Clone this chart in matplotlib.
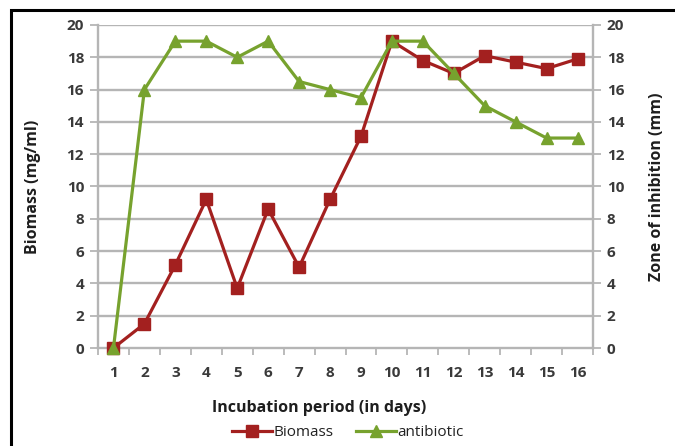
import matplotlib
matplotlib.use("Agg")
import matplotlib.pyplot as plt
from matplotlib.patches import Rectangle
from matplotlib.lines import Line2D

days = list(range(1, 17))
biomass = [0, 1.5, 5.15, 9.2, 3.7, 8.6, 5.0, 9.2, 13.1, 19.0, 17.8, 17.0, 18.1, 17.7, 17.3, 17.9]
antibiotic = [0, 16, 19, 19, 18, 19, 16.5, 16, 15.5, 19, 19, 17, 15, 14, 13, 13]
yticks = list(range(0, 21, 2))

RED = "#A3201F"
GREEN = "#77A22E"
GRID = "#B5B5B5"
TXT = "#3A3A3A"

plt.rcParams['font.family'] = ['Open Sans', 'DejaVu Sans']

fig = plt.figure(figsize=(6.75, 4.46), dpi=100)
ax = fig.add_axes([98/675, 1-348/446, (593-98)/675, (348-25)/446])
ax2 = ax.twinx()

ax.set_xlim(0.5, 16.5)
ax.set_ylim(0, 20)
ax2.set_ylim(0, 20)

for y in yticks[1:]:
    ax.axhline(y, color=GRID, lw=1.7, zorder=0)

ax.plot(days, biomass, color=RED, lw=2.3, marker='s', ms=8.5, mfc=RED, mec=RED, zorder=3, clip_on=False)
ax.plot(days, antibiotic, color=GREEN, lw=2.3, marker='^', ms=8.5, mfc=GREEN, mec=GREEN, zorder=4, clip_on=False)

for a in (ax, ax2):
    for s in a.spines.values():
        s.set_visible(False)
ax.spines['left'].set_visible(True)
ax.spines['bottom'].set_visible(True)
ax2.spines['right'].set_visible(True)
for s in (ax.spines['left'], ax.spines['bottom'], ax2.spines['right']):
    s.set_color(GRID)
    s.set_linewidth(1.7)

ax.set_yticks(yticks)
ax2.set_yticks(yticks)
ax.set_xticks(days)
ax.set_xticks([d + 0.5 for d in [0] + days], minor=True)
ax.tick_params(axis='x', which='major', length=0, pad=13, labelsize=11, labelcolor=TXT)
ax.tick_params(axis='x', which='minor', length=5, width=1.3, color=GRID, direction='out')
ax.tick_params(axis='y', length=6, width=1.3, color=GRID, labelsize=11, labelcolor=TXT, pad=4)
ax2.tick_params(axis='y', length=6, width=1.3, color=GRID, labelsize=11, labelcolor=TXT, pad=4)
for lab in ax.get_xticklabels() + ax.get_yticklabels() + ax2.get_yticklabels():
    lab.set_fontweight('bold')

fig.text(33/675, 1-187/446, "Biomass (mg/ml)", rotation=90, ha='center', va='center',
         fontsize=11.5, fontweight='bold', color='#1E1E1E')
fig.text(657/675, 1-187/446, "Zone of inhibition (mm)", rotation=90, ha='center', va='center',
         fontsize=11.5, fontweight='bold', color='#1E1E1E')
fig.text(319/675, 1-408/446, "Incubation period (in days)", ha='center', va='center',
         fontsize=11.5, fontweight='bold', color='#1E1E1E')

handles = [Line2D([0], [0], color=RED, lw=2.3, marker='s', ms=8.5),
           Line2D([0], [0], color=GREEN, lw=2.3, marker='^', ms=8.5)]
fig.legend(handles, ["Biomass", "antibiotic"], loc='center', bbox_to_anchor=(348/675, 1-433/446),
           ncol=2, frameon=False, fontsize=11, handlelength=2.6, columnspacing=1.5,
           handletextpad=0.1, labelcolor='#222222')

fig.patches.append(Rectangle((11/675, -0.1), 1.2, 1 - 10/446 + 0.1, transform=fig.transFigure,
                             fill=False, edgecolor='black', lw=2.2))

fig.savefig("out.png", dpi=100)
